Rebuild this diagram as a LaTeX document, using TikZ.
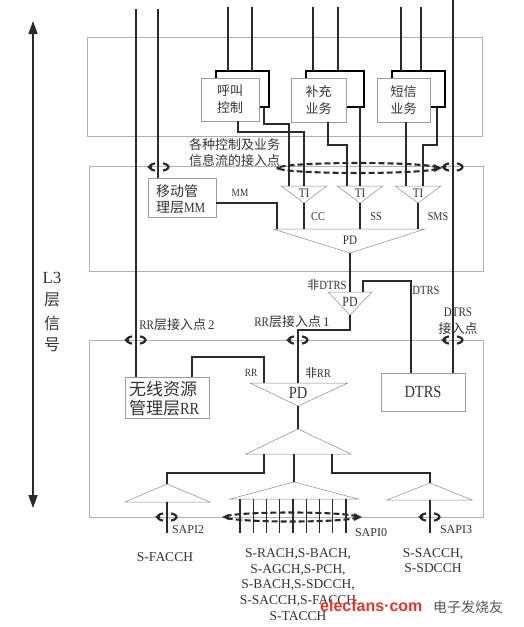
\documentclass[tikz,border=0pt]{standalone}
\usepackage{fontspec}
\setmainfont{Liberation Serif}
\newfontfamily\cjk{Noto Sans CJK SC}
\newfontfamily\narrowf[FakeStretch=0.85]{Liberation Serif}
\newfontfamily\wmfont{Liberation Sans}
\usetikzlibrary{arrows.meta}
\definecolor{panelgray}{HTML}{B0B0B0}
\definecolor{boxgray}{HTML}{9C9C9C}
\definecolor{trigray}{HTML}{8A8A8A}
\definecolor{wirecol}{HTML}{2A2A2A}
\definecolor{txtcol}{HTML}{333333}
\definecolor{wmred}{HTML}{E0372C}
\definecolor{wmgray}{HTML}{555555}
\begin{document}
\begin{tikzpicture}[x=1pt,y=-1pt,
  panel/.style={draw=panelgray,line width=0.7pt},
  wire/.style={draw=wirecol,line width=1.15pt},
  tri/.style={draw=trigray,line width=0.5pt},
  backbox/.style={draw=black,line width=1.1pt,fill=white,inner sep=0pt,outer sep=0pt,anchor=north west},
  frontbox/.style={draw=boxgray,line width=0.7pt,fill=white,inner sep=0pt,outer sep=0pt,anchor=north west},
  lab/.style={text=txtcol,inner sep=0pt,outer sep=0pt},
  zhA/.style={lab,font=\cjk\fontsize{13}{17}\selectfont,align=center},
  nl/.style={lab,font=\narrowf\fontsize{#1}{#1}\selectfont},
  chan/.style={lab,font=\fontsize{13.5}{15.7}\selectfont,align=center},
  sapi/.style={lab,font=\fontsize{12}{12}\selectfont,anchor=west},
  dashring/.style={draw=wirecol,line width=2.1pt,dash pattern=on 6pt off 3pt},
  ring/.pic={
    \draw[line width=2.2pt,wirecol] (115:9.5pt and 4pt) arc[start angle=115,end angle=245,x radius=9.5pt,y radius=4pt];
    \draw[line width=2.2pt,wirecol] (-65:9.5pt and 4pt) arc[start angle=-65,end angle=65,x radius=9.5pt,y radius=4pt];
    \fill[wirecol] (-12pt,0pt) -- (-7pt,3pt) -- (-7pt,-3pt) -- cycle;
  }]
\fill[white] (0,0) rectangle (524,627);
\useasboundingbox (0,0) rectangle (524,627);

% panels
\draw[panel] (87,37) rectangle (482,136);
\draw[panel] (89,166) rectangle (483,271);
\draw[panel] (89,340) rectangle (483,517);

% left arrow and label
\coordinate (arrT) at (33,21);
\coordinate (arrB) at (33,508);
\draw[wirecol,line width=1.3pt,{Triangle[width=9pt,length=13pt]}-{Triangle[width=9pt,length=13pt]}] (arrB) -- (arrT);
\node[lab,font=\fontsize{17}{17}\selectfont] (l3) at (52,278) {L3};
\node[lab,font=\cjk\fontsize{16}{16}\selectfont] (l3a) at (52,300) {层};
\node[lab,font=\cjk\fontsize{16}{16}\selectfont] (l3b) at (52,323) {信};
\node[lab,font=\cjk\fontsize{16}{16}\selectfont] (l3c) at (52,345) {号};

% service boxes
\node[backbox,minimum width=53pt,minimum height=36pt] (hjB) at (216,71) {};
\node[frontbox,minimum width=58pt,minimum height=43pt] (hjF) at (201,78) {};
\node[zhA] (hjT) at (hjF.center) {呼叫\\控制};
\node[backbox,minimum width=58pt,minimum height=36pt] (bcB) at (306,71) {};
\node[frontbox,minimum width=55pt,minimum height=44pt] (bcF) at (291,78) {};
\node[zhA] (bcT) at (bcF.center) {补充\\业务};
\node[backbox,minimum width=53pt,minimum height=36pt] (dxB) at (392,71) {};
\node[frontbox,minimum width=53pt,minimum height=44pt] (dxF) at (377,78) {};
\node[zhA] (dxT) at (dxF.center) {短信\\业务};

% other boxes
\node[frontbox,minimum width=68pt,minimum height=39pt] (mmB) at (148,178) {};
\node[lab,anchor=west] (mmT1) at (156,191) {\cjk\fontsize{14}{14}\selectfont 移动管};
\node[lab,anchor=west] (mmT2) at (156,208) {{\cjk\fontsize{14}{14}\selectfont 理层}{\narrowf\fontsize{14}{14}\selectfont MM}};
\node[frontbox,minimum width=84pt,minimum height=41pt] (rrB) at (125,377) {};
\node[lab,anchor=west] (rrT1) at (129,389) {\cjk\fontsize{17}{17}\selectfont 无线资源};
\node[lab,anchor=west] (rrT2) at (129,408) {{\cjk\fontsize{17}{17}\selectfont 管理层}{\narrowf\fontsize{17}{17}\selectfont RR}};
\node[frontbox,minimum width=84pt,minimum height=38pt] (dtrs) at (381,373) {};
\node[nl=17] (dtrsT) at (dtrs.center) {DTRS};

% long vertical lines
\coordinate (lA) at (136,9);
\coordinate (lB) at (158,9);
\coordinate (lR) at (453,0);
\draw[wire] (lA) -- (lA |- rrB.north);
\draw[wire] (lB) -- (lB |- mmB.north);
\draw[wire] (lR) -- (lR |- dtrs.north);

% service inputs
\foreach \nm/\xx/\bx in {i1/228/hjB,i2/252/hjB,i3/313/bcB,i4/338/bcB,i5/401/dxB,i6/421/dxB}{
  \coordinate (\nm) at (\xx,7);
  \draw[wire] (\nm) -- (\nm |- \bx.north);
}

% TI triangles
\foreach \n/\c in {1/304,2/360,3/418}{
  \coordinate (tiL\n) at ({\c-23},186);
  \coordinate (tiR\n) at ({\c+23},186);
  \coordinate (tiA\n) at (\c,203);
  \draw[tri] (tiL\n) -- (tiR\n) -- (tiA\n) -- cycle;
  \node[nl=13] (tiT\n) at (\c,193) {TI};
}

% service outputs
\coordinate (ti1a) at (289,186); \coordinate (ti1b) at (304,186);
\coordinate (ti2a) at (347,186); \coordinate (ti2b) at (360,186);
\coordinate (ti3a) at (406,186); \coordinate (ti3b) at (423,186);
\coordinate (hjOA) at (264,124); \coordinate (hjOB) at (238,132);
\coordinate (bcOA) at (328,145); \coordinate (dxOB) at (437,145);
\draw[wire] (hjB.south -| hjOA) -- (hjOA) -| (ti1a);
\draw[wire] (hjF.south -| hjOB) -- (hjOB) -| (ti1b);
\draw[wire] (bcF.south -| bcOA) -- (bcOA) -| (ti2a);
\draw[wire] (bcB.south -| ti2b) -- (ti2b);
\draw[wire] (dxF.south -| ti3a) -- (ti3a);
\draw[wire] (dxB.south -| dxOB) -- (dxOB) -| (ti3b);

% top access point label and rings
\node[lab,font=\cjk\fontsize{13}{16}\selectfont,anchor=west] (acc1) at (189,145) {各种控制及业务};
\node[lab,font=\cjk\fontsize{13}{16}\selectfont,anchor=west] (acc2) at (189,161) {信息流的接入点};
\draw[dashring] (358,168) ellipse [x radius=80pt,y radius=5pt];
\coordinate (dl1) at (278,168); \coordinate (dr1) at (442,168);
\fill[wirecol] (dl1) circle (1.8pt);
\fill[wirecol] (dr1) -- ++(-8,-4) -- ++(0,8) -- cycle;
\pic at (159,167) {ring};
\pic at (453,167) {ring};

% PD1
\coordinate (pd1L) at (273,229); \coordinate (pd1R) at (425,229); \coordinate (pd1A) at (350,253);
\draw[tri] (pd1L) -- (pd1R) -- (pd1A) -- cycle;
\node[nl=13] (pd1T) at (350,240) {PD};
\foreach \n in {1,2,3}{ \draw[wire] (tiA\n) -- (tiA\n |- pd1L); }
\node[nl=12] (ccT) at (318,217) {CC};
\node[nl=12] (ssT) at (376,217) {SS};
\node[nl=12] (smsT) at (438,217) {SMS};
\coordinate (mmW) at (277,203);
\draw[wire] (mmB.east |- mmW) -- (mmW) -- (mmW |- pd1L);
\node[nl=11] (mmL) at (240,193) {MM};

% PD2
\coordinate (pd2L) at (328,292); \coordinate (pd2R) at (372,292); \coordinate (pd2A) at (350,315);
\draw[tri] (pd2L) -- (pd2R) -- (pd2A) -- cycle;
\node[nl=14] (pd2T) at (350,302) {PD};
\draw[wire] (pd1A) -- (pd1A |- pd2L);
\node[lab] (ndt) at (327,285) {{\cjk\fontsize{12}{12}\selectfont 非}{\narrowf\fontsize{12.5}{12}\selectfont DTRS}};
\coordinate (dtK) at (363,281); \coordinate (dtK2) at (411,281);
\draw[wire] (dtK |- pd2L) -- (dtK) -- (dtK2) -- (dtK2 |- dtrs.north);
\node[nl=12.5] (dtL) at (426,290) {DTRS};

% PD3
\coordinate (pd3L) at (250,383); \coordinate (pd3R) at (348,383); \coordinate (pd3A) at (298,406);
\draw[tri] (pd3L) -- (pd3R) -- (pd3A) -- cycle;
\node[nl=17] (pd3T) at (298,393) {PD};
\coordinate (rr1) at (298,330);
\draw[wire] (pd2A) |- (rr1) -- (rr1 |- pd3L);
\coordinate (rrK0) at (192,357); \coordinate (rrK) at (264,357);
\draw[wire] (rrK0 |- rrB.north) -- (rrK0) -- (rrK) -- (rrK |- pd3L);
\node[nl=11] (rrL) at (251,373) {RR};
\node[lab] (nrrL) at (318,373) {{\cjk\fontsize{12}{12}\selectfont 非}{\narrowf\fontsize{12}{12}\selectfont RR}};

% access point labels
\node[lab] (ap2) at (177,325) {{\narrowf\fontsize{13}{13}\selectfont RR}{\cjk\fontsize{13}{13}\selectfont 层接入点}{\fontsize{13}{13}\selectfont\,2}};
\node[lab] (ap1) at (292,322) {{\narrowf\fontsize{13}{13}\selectfont RR}{\cjk\fontsize{13}{13}\selectfont 层接入点}{\fontsize{13}{13}\selectfont\,1}};
\node[nl=13] (apd1) at (458,312) {DTRS};
\node[lab,font=\cjk\fontsize{13}{13}\selectfont] (apd2) at (458,329) {接入点};
\pic at (136,340) {ring};
\pic at (298,340) {ring};
\pic at (453,340) {ring};

% lower tree
\coordinate (t4A) at (298,429); \coordinate (t4L) at (246,454); \coordinate (t4R) at (351,454);
\coordinate (t5A) at (167,484); \coordinate (t5L) at (125,502); \coordinate (t5R) at (210,502);
\coordinate (t6A) at (294,482); \coordinate (t6L) at (230,499); \coordinate (t6R) at (358,499);
\coordinate (t7A) at (430,483); \coordinate (t7L) at (387,500); \coordinate (t7R) at (472,500);
\draw[tri] (t4A) -- (t4L) -- (t4R) -- cycle;
\draw[tri] (t5A) -- (t5L) -- (t5R) -- cycle;
\draw[tri] (t6A) -- (t6L) -- (t6R) -- cycle;
\draw[tri] (t7A) -- (t7L) -- (t7R) -- cycle;
\draw[wire] (pd3A) -- (t4A);
\coordinate (t4o1) at (264,454); \coordinate (t4o2) at (294,454); \coordinate (t4o3) at (332,454);
\coordinate (b5) at (167,473); \coordinate (b7) at (430,473);
\draw[wire] (t4o1) |- (b5) -- (t5A);
\draw[wire] (t4o2) -- (t6A);
\draw[wire] (t4o3) |- (b7) -- (t7A);
\coordinate (s2) at (167,533); \coordinate (s3) at (430,533);
\draw[wire] (s2 |- t5L) -- (s2);
\draw[wire] (s3 |- t7L) -- (s3);
\foreach \i in {0,...,8}{
  \coordinate (s0\i) at ({240+13.25*\i},533);
  \draw[wire] (s0\i |- t6L) -- (s0\i);
}
\pic at (167,517) {ring};
\pic at (430,517) {ring};
\draw[dashring] (291,517) ellipse [x radius=66pt,y radius=4.5pt];
\coordinate (dl2) at (222,517); \coordinate (dr2) at (362,517);
\fill[wirecol] (dl2) -- ++(7,-3) -- ++(0,6) -- cycle;
\fill[wirecol] (dr2) -- ++(-8,-4) -- ++(0,8) -- cycle;
\node[sapi] (sp2) at (172,530) {SAPI2};
\node[sapi] (sp0) at (355,533) {SAPI0};
\node[sapi] (sp3) at (440,530) {SAPI3};

% channel texts
\node[chan] (chF) at (165,557) {S-FACCH};
\node[chan] (chM) at (298,584.5) {S-RACH,S-BACH,\\S-AGCH,S-PCH,\\S-BACH,S-SDCCH,\\S-SACCH,S-FACCH\\S-TACCH};
\node[chan] (chS) at (433,560.5) {S-SACCH,\\S-SDCCH};

% watermark
\node[inner sep=0pt,text=wmred,font=\wmfont\bfseries\fontsize{16}{16}\selectfont,anchor=west] (wm1) at (320,606) {elecfans·com};
\node[inner sep=0pt,text=wmgray,font=\cjk\fontsize{14}{14}\selectfont,anchor=west] (wm2) at (433,607) {电子发烧友};
\end{tikzpicture}
\end{document}
